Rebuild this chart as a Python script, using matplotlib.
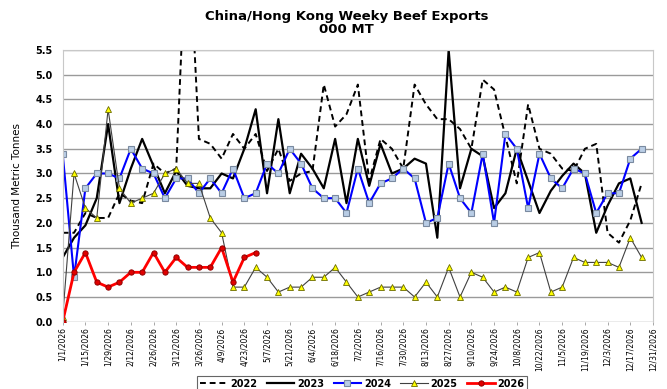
import matplotlib
matplotlib.use('Agg')
import matplotlib.pyplot as plt

# week-ending labels, every other week
tickLabels = ['1/1/2026', '1/15/2026', '1/29/2026', '2/12/2026', '2/26/2026', '3/12/2026',
              '3/26/2026', '4/9/2026', '4/23/2026', '5/7/2026', '5/21/2026', '6/4/2026',
              '6/18/2026', '7/2/2026', '7/16/2026', '7/30/2026', '8/13/2026', '8/27/2026',
              '9/10/2026', '9/24/2026', '10/8/2026', '10/22/2026', '11/5/2026', '11/19/2026',
              '12/3/2026', '12/17/2026', '12/31/2026']

# weekly exports, thousand metric tonnes
exports2022 = [1.8, 1.8, 2.2, 2.1, 2.1, 2.6, 2.45, 2.4, 3.2, 3.0, 3.1, 8.4, 3.7, 3.6, 3.3,
               3.8, 3.5, 3.8, 3.05, 3.5, 2.85, 3.0, 3.05, 4.8, 3.95, 4.2, 4.8, 2.85, 3.7,
               3.5, 3.1, 4.8, 4.4, 4.1, 4.1, 3.9, 3.5, 4.9, 4.7, 3.75, 2.8, 4.4, 3.5, 3.4,
               3.1, 3.05, 3.5, 3.6, 1.8, 1.6, 2.05, 2.8]
exports2023 = [1.3, 1.7, 1.95, 2.5, 4.0, 2.4, 3.1, 3.7, 3.15, 2.6, 3.05, 2.75, 2.7, 2.7, 3.0,
               2.9, 3.5, 4.3, 2.6, 4.1, 2.6, 3.4, 3.1, 2.7, 3.7, 2.4, 3.7, 2.75, 3.6, 3.0,
               3.1, 3.3, 3.2, 1.7, 5.5, 2.7, 3.5, 3.35, 2.3, 2.6, 3.5, 2.85, 2.2, 2.65, 2.95,
               3.2, 3.0, 1.8, 2.35, 2.8, 2.9, 2.0]
exports2024 = [3.4, 0.9, 2.7, 3.0, 3.0, 2.9, 3.5, 3.1, 3.0, 2.5, 2.9, 2.9, 2.6, 2.9, 2.6,
               3.1, 2.5, 2.6, 3.2, 3.0, 3.5, 3.2, 2.7, 2.5, 2.5, 2.2, 3.1, 2.4, 2.8, 2.9,
               3.1, 2.9, 2.0, 2.1, 3.2, 2.5, 2.2, 3.4, 2.0, 3.8, 3.5, 2.3, 3.4, 2.9, 2.7,
               3.1, 3.0, 2.2, 2.6, 2.6, 3.3, 3.5]
exports2025 = [0.1, 3.0, 2.3, 2.1, 4.3, 2.7, 2.4, 2.5, 2.6, 3.0, 3.1, 2.8, 2.8, 2.1, 1.8,
               0.7, 0.7, 1.1, 0.9, 0.6, 0.7, 0.7, 0.9, 0.9, 1.1, 0.8, 0.5, 0.6, 0.7, 0.7,
               0.7, 0.5, 0.8, 0.5, 1.1, 0.5, 1.0, 0.9, 0.6, 0.7, 0.6, 1.3, 1.4, 0.6, 0.7,
               1.3, 1.2, 1.2, 1.2, 1.1, 1.7, 1.3]
exports2026 = [0.0, 1.0, 1.4, 0.8, 0.7, 0.8, 1.0, 1.0, 1.4, 1.0, 1.3, 1.1, 1.1, 1.1, 1.5,
               0.8, 1.3, 1.4]

yTicks = [0.0, 0.5, 1.0, 1.5, 2.0, 2.5, 3.0, 3.5, 4.0, 4.5, 5.0, 5.5]

def weeks(values):
    return list(range(len(values)))

fig = plt.figure(figsize=(6.67, 3.89), dpi=100)
ax = fig.add_axes([0.094, 0.173, 0.885, 0.6985])

ax.plot(weeks(exports2022), exports2022, color='black', lw=1.4, dashes=(3, 2), label='2022')
ax.plot(weeks(exports2023), exports2023, color='black', lw=1.6, label='2023')
ax.plot(weeks(exports2024), exports2024, color='#0000ff', lw=1.5, marker='s', ms=4.2,
        mfc='#b9cde5', mec='#7a8aa0', mew=0.8, label='2024')
ax.plot(weeks(exports2025), exports2025, color='#404040', lw=0.8, marker='^', ms=4.2,
        mfc='#ffff00', mec='#6b6b00', mew=0.6, label='2025')
ax.plot(weeks(exports2026), exports2026, color='#ff0000', lw=2.0, marker='o', ms=3.8,
        mfc='#e00000', mec='#900000', mew=0.7, label='2026')

ax.set_xlim(0, 52)
ax.set_ylim(0, 5.5)
ax.set_yticks(yTicks)
ax.set_yticklabels(['%.1f' % v for v in yTicks], fontsize=7, fontweight='bold')
ax.set_xticks(list(range(0, 53, 2)))
ax.set_xticklabels(tickLabels, rotation=90, fontsize=5.5, va='top', ha='center')
ax.tick_params(axis='y', length=0, pad=7)
ax.tick_params(axis='x', length=2, width=0.6, color='#999999', pad=2)
ax.yaxis.grid(True, color='#9a9a9a', lw=1.0)
ax.set_axisbelow(True)
for side in ['left', 'right', 'top']:
    ax.spines[side].set_color('#c8c8c8')
    ax.spines[side].set_linewidth(0.8)
ax.spines['bottom'].set_visible(False)

ax.set_ylabel('Thousand Metric Tonnes', fontsize=7.5, labelpad=10)
fig.text(0.52, 0.958, 'China/Hong Kong Weeky Beef Exports', ha='center', va='center',
         fontsize=9.5, fontweight='bold')
fig.text(0.52, 0.923, '000 MT', ha='center', va='center', fontsize=9.5, fontweight='bold')

leg = fig.legend(loc='center', bbox_to_anchor=(0.543, 0.014), ncol=5, frameon=True,
                 fancybox=False, edgecolor='#404040', handlelength=2.8, handletextpad=0.3,
                 columnspacing=1.0, borderpad=0.3, prop={'size': 7, 'weight': 'bold'})
leg.get_frame().set_linewidth(0.8)

plt.savefig('out.png', dpi=100)
plt.close()
